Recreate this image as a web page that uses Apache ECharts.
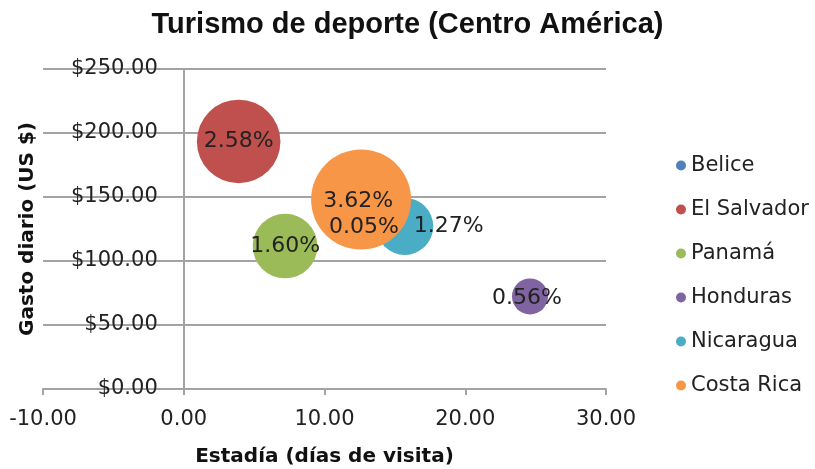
<!DOCTYPE html>
<html>
<head>
<meta charset="utf-8">
<script src="https://cdn.jsdelivr.net/npm/echarts@6/dist/echarts.min.js"></script>
<style>html,body{margin:0;padding:0;background:#fff}#c{width:815px;height:469px}</style>
</head>
<body>
<div id="c"></div>
<script>
const countries = ['Belice', 'El Salvador', 'Panamá', 'Honduras', 'Nicaragua', 'Costa Rica'];
const estadia = [12.8, 3.9, 7.2, 24.6, 15.7, 12.6];
const gasto = [126.6, 193.4, 111.7, 72.3, 127.0, 148.0];
const share = [0.05, 2.58, 1.60, 0.56, 1.27, 3.62];
const shareLabels = ['0.05%', '2.58%', '1.60%', '0.56%', '1.27%', '3.62%'];

const palette = ['#4F81BD', '#C0504D', '#9BBB59', '#8064A2', '#4BACC6', '#F79646'];
const labelOffsets = [[0,0],[0,0],[0,0],[-3,2],[44,0],[-3,2]];
const gridColor = '#a3a3a3';
const tickFont = 'DejaVu Sans';

const GRID_L = 43, GRID_R = 209, W = 815;
const plotW = W - GRID_L - GRID_R;
const xMin = -10, xMax = 30;
const yAxisShift = -plotW * (0 - xMin) / (xMax - xMin);

const chart = echarts.init(document.getElementById('c'));
const series = countries.map((name, i) => ({
  name: name,
  type: 'scatter',
  data: [[estadia[i], gasto[i], share[i], shareLabels[i]]],
  symbolSize: d => Math.max(4, 2 * (27.7 * Math.sqrt(d[2]) - 2.7)),
  itemStyle: { color: palette[i], opacity: 1 },
  emphasis: { disabled: true },
  label: {
    show: true,
    position: 'inside',
    offset: labelOffsets[i],
    formatter: p => p.data[3],
    color: '#222',
    fontFamily: tickFont,
    fontSize: 22
  },
  z: 2
}));

chart.setOption({
  animation: false,
  title: {
    text: 'Turismo de deporte (Centro América)',
    left: 'center',
    top: 5,
    textStyle: { fontFamily: 'Liberation Sans', fontWeight: 'bold', fontSize: 29, color: '#111' }
  },
  legend: {
    orient: 'vertical',
    left: 671,
    top: 150,
    icon: 'circle',
    itemWidth: 10,
    itemHeight: 10,
    itemGap: 23,
    textStyle: { fontFamily: tickFont, fontSize: 21, color: '#222' },
    data: countries
  },
  grid: { left: GRID_L, right: GRID_R, top: 69, bottom: 80, containLabel: false, outerBoundsMode: 'none' },
  xAxis: {
    type: 'value',
    min: xMin, max: xMax, interval: 10,
    name: 'Estadía (días de visita)',
    nameLocation: 'middle',
    nameGap: 58,
    nameTextStyle: { fontFamily: tickFont, fontWeight: 'bold', fontSize: 20, color: '#111' },
    axisLine: { show: true, onZero: false, lineStyle: { color: gridColor, width: 2 } },
    axisTick: { show: true, length: 6, lineStyle: { color: gridColor, width: 2 } },
    axisLabel: { formatter: v => v.toFixed(2), fontFamily: tickFont, fontSize: 21, color: '#222', margin: 20 },
    splitLine: { show: false }
  },
  yAxis: {
    type: 'value',
    min: 0, max: 250, interval: 50,
    offset: yAxisShift,
    name: 'Gasto diario (US $)',
    nameLocation: 'middle',
    nameGap: 146,
    nameTextStyle: { fontFamily: tickFont, fontWeight: 'bold', fontSize: 20, color: '#111' },
    axisLine: { show: true, onZero: false, lineStyle: { color: gridColor, width: 2 } },
    axisTick: { show: false },
    axisLabel: { formatter: v => '$' + v.toFixed(2), fontFamily: tickFont, fontSize: 21, color: '#222', margin: 26 },
    splitLine: { show: true, lineStyle: { color: gridColor, width: 2 } }
  },
  series: series
});
</script>
</body>
</html>
